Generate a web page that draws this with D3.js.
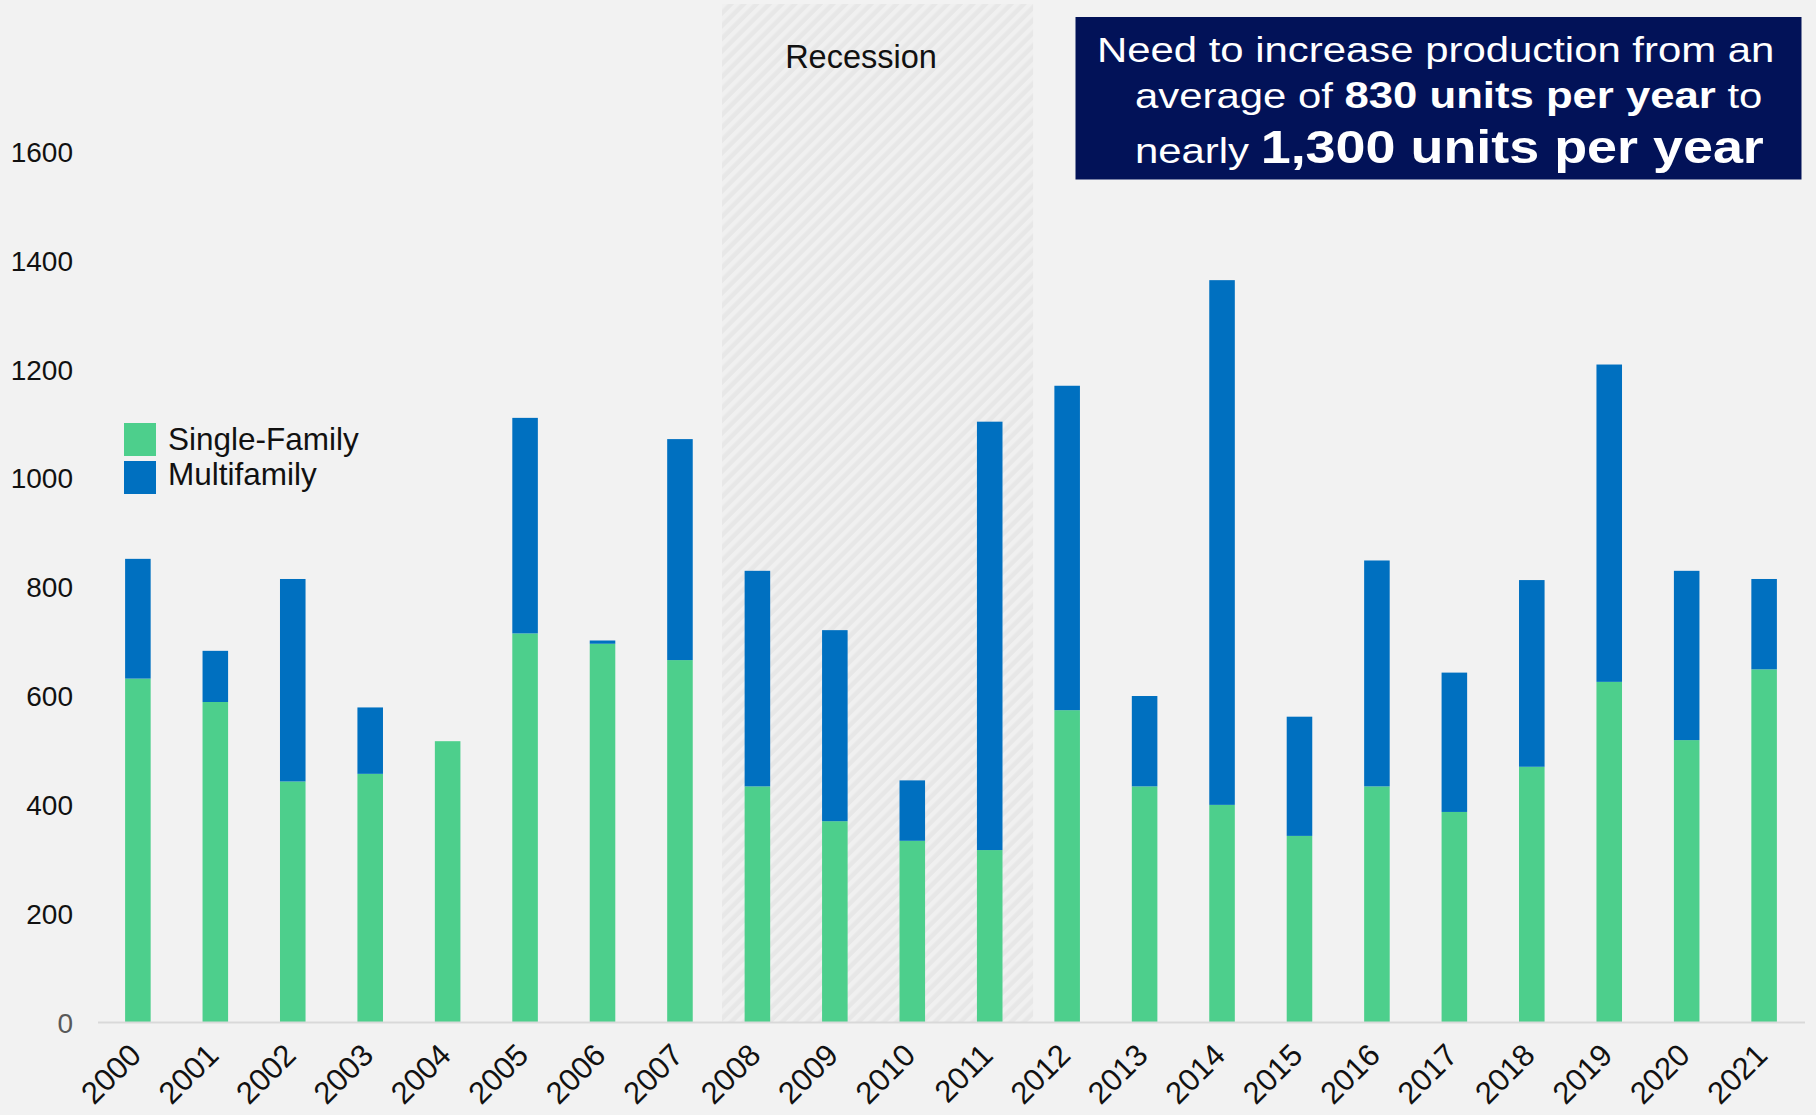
<!DOCTYPE html>
<html>
<head>
<meta charset="utf-8">
<script src="https://cdn.jsdelivr.net/npm/d3@7"></script>
<style>
  html, body { margin: 0; padding: 0; background: #f2f2f2; }
  svg { display: block; }
  text { font-family: "Liberation Sans", Arial, sans-serif; }
</style>
</head>
<body>
<svg id="chart" width="1816" height="1115"></svg>
<script>
// Housing units permitted per year
const years = ["2000","2001","2002","2003","2004","2005","2006","2007","2008","2009","2010",
               "2011","2012","2013","2014","2015","2016","2017","2018","2019","2020","2021"];
const singleFamily = [632, 589, 443, 457, 517, 715, 696, 666, 434, 370, 334,
                      317, 574, 434, 400, 343, 434, 387, 470, 626, 519, 649];
const multifamily  = [220,  94, 372, 122,   0, 396,   6, 406, 396, 351, 111,
                      787, 596, 166, 964, 219, 415, 256, 343, 583, 311, 166];
const yTicks = [0, 200, 400, 600, 800, 1000, 1200, 1400, 1600];
const seriesNames = ["Single-Family", "Multifamily"];
const seriesColors = ["#4dcf8c", "#0070c0"];
const recessionYears = ["2008", "2011"];

const svg = d3.select("#chart");

const x = d3.scaleBand().domain(years).range([98, 1804]).paddingInner(0.67).paddingOuter(0.35);
const y = d3.scaleLinear().domain([0, 1600]).range([1022.6, 151.7]);

// recession shading with diagonal hatch
const defs = svg.append("defs");
const pat = defs.append("pattern")
  .attr("id", "hatch").attr("patternUnits", "userSpaceOnUse")
  .attr("width", 9).attr("height", 9)
  .attr("patternTransform", "rotate(45)");
pat.append("rect").attr("width", 9).attr("height", 9).attr("fill", "#e7e7e7");
pat.append("rect").attr("width", 4.5).attr("height", 9).attr("fill", "#f0f0f0");

const step = x.step();
const recX0 = x(recessionYears[0]) + x.bandwidth() / 2 - 0.457 * step;
const recX1 = x(recessionYears[1]) + x.bandwidth() / 2 + 0.56 * step;
svg.append("rect")
  .attr("x", recX0).attr("y", 4)
  .attr("width", recX1 - recX0).attr("height", y(0) - 4)
  .attr("fill", "url(#hatch)");
svg.append("text")
  .attr("x", 861).attr("y", 68)
  .attr("text-anchor", "middle")
  .attr("font-size", 32.5).attr("fill", "#111")
  .text("Recession");

// stacked bars
const rows = years.map((yr, i) => ({ year: yr, sf: singleFamily[i], mf: multifamily[i] }));
const stack = d3.stack().keys(["sf", "mf"])(rows);
svg.append("g").selectAll("g")
  .data(stack).join("g")
  .attr("fill", (d, i) => seriesColors[i])
  .selectAll("rect")
  .data(d => d.filter(p => p[1] - p[0] > 0)).join("rect")
  .attr("x", d => x(d.data.year))
  .attr("width", x.bandwidth())
  .attr("y", d => y(d[1]))
  .attr("height", d => y(d[0]) - y(d[1]));

// baseline
svg.append("line")
  .attr("x1", 98).attr("x2", 1805)
  .attr("y1", y(0)).attr("y2", y(0))
  .attr("stroke", "#d9d9d9").attr("stroke-width", 2);

// y tick labels
svg.append("g").selectAll("text")
  .data(yTicks).join("text")
  .attr("x", 73)
  .attr("y", d => y(d))
  .attr("dy", "0.36em")
  .attr("text-anchor", "end")
  .attr("font-size", 28)
  .attr("fill", d => d === 0 ? "#595959" : "#111")
  .text(d => d);

// x tick labels, rotated
svg.append("g").selectAll("text")
  .data(years).join("text")
  .attr("transform", d => `translate(${x(d) + x.bandwidth() / 2 + 5},1057) rotate(-45)`)
  .attr("text-anchor", "end")
  .attr("font-size", 31)
  .attr("fill", "#111")
  .text(d => d);

// legend
const legend = svg.append("g");
seriesNames.forEach((name, i) => {
  legend.append("rect")
    .attr("x", 124).attr("y", 423 + i * 38)
    .attr("width", 32).attr("height", 33)
    .attr("fill", seriesColors[i]);
  legend.append("text")
    .attr("x", 168).attr("y", 450 + i * 35)
    .attr("font-size", 31.5).attr("fill", "#111")
    .text(name);
});

// call-out box
svg.append("rect")
  .attr("x", 1075.5).attr("y", 17)
  .attr("width", 726).attr("height", 162.5)
  .attr("fill", "#021258");

const lines = [
  { x: 1097, y: 61.7, parts: [{ t: "Need to increase production from an", b: false, s: 35.2 }] },
  { x: 1135, y: 108, parts: [
    { t: "average of ", b: false, s: 35.2 },
    { t: "830 units per year", b: true, s: 36.7 },
    { t: " to", b: false, s: 35.2 }] },
  { x: 1135, y: 163, parts: [
    { t: "nearly ", b: false, s: 35.2 },
    { t: "1,300 units per year", b: true, s: 45.3 }] }
];
lines.forEach(l => {
  const g = svg.append("g").attr("transform", `translate(${l.x},${l.y}) scale(1.19,1)`);
  const t = g.append("text").attr("x", 0).attr("y", 0).attr("fill", "#fff")
    .attr("xml:space", "preserve").style("white-space", "pre");
  l.parts.forEach(p => {
    t.append("tspan")
      .attr("font-size", p.s)
      .attr("font-weight", p.b ? "bold" : "normal")
      .text(p.t);
  });
});
</script>
</body>
</html>
